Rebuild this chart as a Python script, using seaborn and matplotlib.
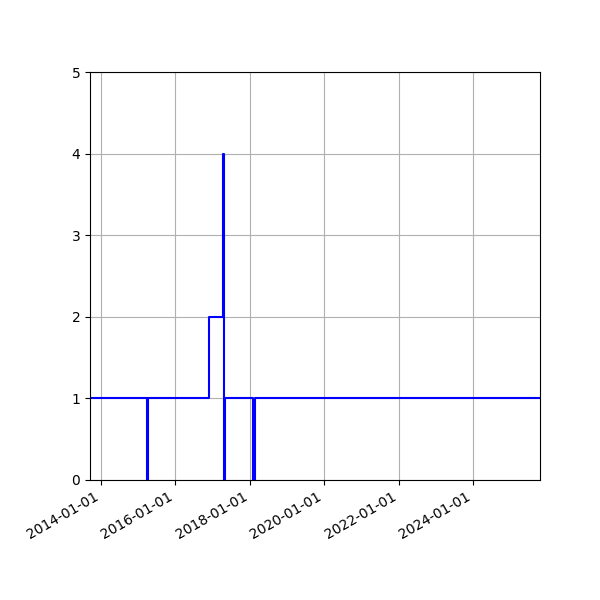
import pandas as pd
import numpy as np
import matplotlib
matplotlib.use('Agg')
import matplotlib.pyplot as plt
import matplotlib.dates as mdates
import seaborn as sns

# Event dates and the value that holds from each date on
dates = ['2013-09-14', '2015-03-28', '2015-04-05', '2016-11-25', '2017-04-10',
         '2017-04-18', '2017-04-28', '2018-01-29', '2018-02-22', '2025-10-19']
values = [1, 0, 1, 2, 4, 0, 1, 0, 1, 1]

df = pd.DataFrame({'date': pd.to_datetime(dates), 'value': values})

fig, ax = plt.subplots(figsize=(6, 6), dpi=100)
sns.lineplot(data=df, x='date', y='value', color='blue', linewidth=1.5,
             drawstyle='steps-post', ax=ax)

ax.set_xlim(df['date'].min(), df['date'].max())
ax.set_ylim(0, 5)
ax.xaxis.set_major_locator(mdates.YearLocator(2))
ax.xaxis.set_major_formatter(mdates.DateFormatter('%Y-%m-%d'))
ax.set_xlabel('')
ax.set_ylabel('')
ax.grid(True)
fig.autofmt_xdate()
fig.subplots_adjust(left=0.15, right=0.9, top=0.88, bottom=0.2)

plt.savefig('out.png', dpi=100)
plt.close()
